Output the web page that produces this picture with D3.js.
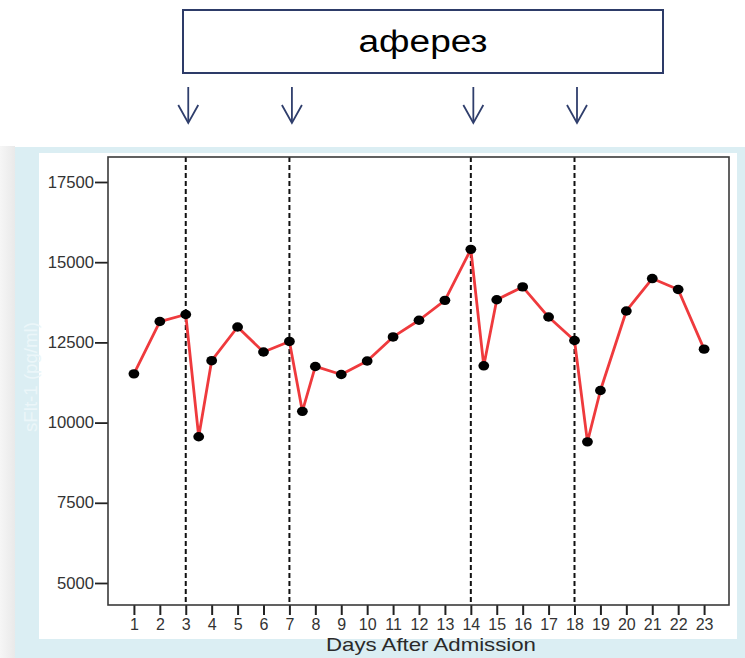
<!DOCTYPE html>
<html>
<head>
<meta charset="utf-8">
<script src="https://cdn.jsdelivr.net/npm/d3@7/dist/d3.min.js"></script>
<style>
  html, body { margin: 0; padding: 0; background: #ffffff; }
  svg { display: block; }
</style>
</head>
<body>
<svg id="chart" width="745" height="658"></svg>
<script>
// Days after admission (half-days are the post-apheresis samples)
const days = [1, 2, 3, 3.5, 4, 5, 6, 7, 7.5, 8, 9, 10, 11, 12, 13, 14, 14.5, 15, 16, 17, 18, 18.5, 19, 20, 21, 22, 23];
// sFlt-1 concentration, pg/ml
const sflt1 = [11520, 13150, 13370, 9560, 11930, 12980, 12200, 12530, 10350, 11750, 11500, 11920, 12670, 13190,
               13810, 15400, 11770, 13830, 14230, 13290, 12560, 9400, 11000, 13480, 14490, 14150, 12290];
// Days on which apheresis was performed
const apheresisDays = [3, 7, 14, 18];
const xTickValues = d3.range(1, 24);
const yTickValues = [5000, 7500, 10000, 12500, 15000, 17500];
const bannerText = "аферез";
const xTitle = "Days After Admission";
const yTitle = "sFlt-1 (pg/ml)";

const svg = d3.select("#chart");
const font = "'Liberation Sans', Arial, Helvetica, sans-serif";

// frame of the plotting area
const plot = { left: 108, right: 730, top: 157, bottom: 605 };

const x = d3.scaleLinear().domain([0, 24]).range([plot.left, plot.right]);
const y = d3.scaleLinear().domain([4314, 18279]).range([plot.bottom, plot.top]);

// side shadow and panel backgrounds
const defs = svg.append("defs");
const grad = defs.append("linearGradient").attr("id", "shade").attr("x1", 0).attr("x2", 1);
grad.append("stop").attr("offset", 0).attr("stop-color", "#f6f6f6");
grad.append("stop").attr("offset", 1).attr("stop-color", "#e9e9e9");
svg.append("rect").attr("x", 0).attr("y", 146).attr("width", 15).attr("height", 512).attr("fill", "url(#shade)");
svg.append("rect").attr("x", 15).attr("y", 147).attr("width", 730).attr("height", 511).attr("fill", "#dbeef3");
svg.append("rect").attr("x", 39).attr("y", 153).attr("width", 698).attr("height", 486).attr("fill", "#ffffff");

// banner box with label
svg.append("rect").attr("x", 183).attr("y", 10).attr("width", 480).attr("height", 63)
  .attr("fill", "#ffffff").attr("stroke", "#2d3b68").attr("stroke-width", 2);
svg.append("text").attr("x", 423).attr("y", 52).attr("text-anchor", "middle")
  .attr("font-family", font).attr("font-size", 31).attr("fill", "#000")
  .attr("textLength", 129).attr("lengthAdjust", "spacingAndGlyphs")
  .text(bannerText);

// arrows pointing at each apheresis day
const arrows = svg.append("g").attr("stroke", "#2f3e6c").attr("stroke-width", 1.8).attr("fill", "none");
apheresisDays.forEach(d => {
  const ax = x(d) + 2.5;
  arrows.append("line").attr("x1", ax).attr("x2", ax).attr("y1", 87).attr("y2", 122);
  arrows.append("path").attr("d", `M${ax - 10},105 L${ax},123 L${ax + 10},105`);
});

// vertical dashed apheresis markers
svg.append("g").selectAll("line").data(apheresisDays).join("line")
  .attr("x1", d => x(d)).attr("x2", d => x(d))
  .attr("y1", plot.top).attr("y2", plot.bottom)
  .attr("stroke", "#111").attr("stroke-width", 2).attr("stroke-dasharray", "5,3");

// y axis
const yAxis = svg.append("g").attr("transform", `translate(${plot.left},0)`)
  .call(d3.axisLeft(y).tickValues(yTickValues).tickSize(13).tickPadding(1).tickFormat(d3.format("d")));
yAxis.select(".domain").remove();
yAxis.selectAll("line").attr("stroke", "#222").attr("stroke-width", 1.8);
yAxis.selectAll("text").attr("font-family", font).attr("font-size", 16).attr("fill", "#333")
  .attr("x", -14 / 1.04).attr("transform", "scale(1.04,1)");

// x axis
const xAxis = svg.append("g").attr("transform", `translate(0,${plot.bottom})`)
  .call(d3.axisBottom(x).tickValues(xTickValues).tickSize(10).tickPadding(4).tickFormat(d3.format("d")));
xAxis.select(".domain").remove();
xAxis.selectAll("line").attr("stroke", "#222").attr("stroke-width", 2);
xAxis.selectAll("text").attr("font-family", font).attr("font-size", 16).attr("fill", "#333");

// plot frame
svg.append("rect").attr("x", plot.left).attr("y", plot.top)
  .attr("width", plot.right - plot.left - 1).attr("height", plot.bottom - plot.top)
  .attr("fill", "none").attr("stroke", "#3a3a3a").attr("stroke-width", 1.6);

// axis titles
svg.append("text").attr("x", 431).attr("y", 651).attr("text-anchor", "middle")
  .attr("font-family", font).attr("font-size", 19).attr("fill", "#2a2a2a")
  .attr("textLength", 210).attr("lengthAdjust", "spacingAndGlyphs")
  .text(xTitle);
svg.append("text").attr("transform", "translate(37,377) rotate(-90)").attr("text-anchor", "middle")
  .attr("font-family", font).attr("font-size", 18).attr("fill", "#ebf6f9")
  .attr("textLength", 110).attr("lengthAdjust", "spacingAndGlyphs")
  .text(yTitle);

// series line and points
const series = days.map((d, i) => ({ day: d, value: sflt1[i] }));
svg.append("path").datum(series)
  .attr("fill", "none").attr("stroke", "#ef3a3d").attr("stroke-width", 2.8).attr("stroke-linejoin", "round")
  .attr("d", d3.line().x(p => x(p.day)).y(p => y(p.value)));
svg.append("g").selectAll("ellipse").data(series).join("ellipse")
  .attr("cx", p => x(p.day)).attr("cy", p => y(p.value))
  .attr("rx", 5.4).attr("ry", 4.7).attr("fill", "#000");
</script>
</body>
</html>
